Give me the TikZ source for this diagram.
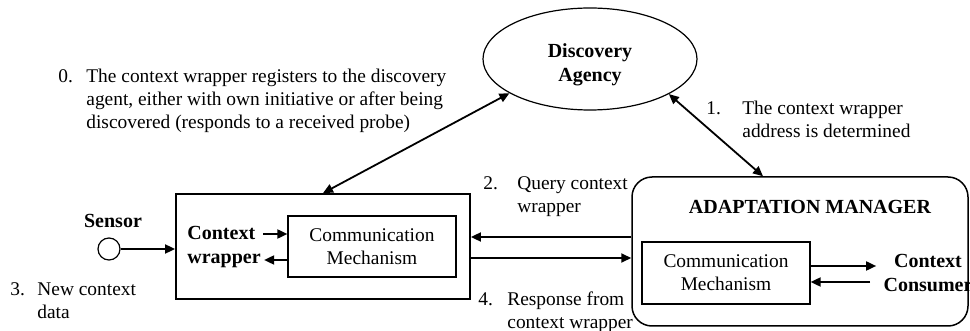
\documentclass[tikz,border=0pt]{standalone}
\usepackage{fontspec}
\setmainfont{Liberation Serif}
\usetikzlibrary{arrows.meta,shapes.geometric}

\tikzset{
	arr/.style={-{Triangle[length=5pt,width=4.5pt]}, line width=0.9pt},
	dblarr/.style={{Triangle[length=5pt,width=4.5pt]}-{Triangle[length=5pt,width=4.5pt]}, line width=0.9pt},
	box/.style={draw, line width=0.6pt, inner sep=0pt, align=center},
	note/.style={inner sep=0pt, anchor=base west},
	lbl/.style={inner sep=0pt, font=\bfseries, align=center},
}

\begin{document}
\begin{tikzpicture}[x=0.5pt, y=-0.5pt, font=\fontsize{9.7}{11.5}\selectfont]
			\useasboundingbox (0,0) rectangle (970,331);
			
			% discovery agency, its text sits a little low
			\node[box, ellipse, minimum width=107pt, minimum height=51pt,
				label={[lbl, yshift=-3pt]center:Discovery\\Agency}] (disc) at (590,59) {};
			
			% context wrapper side
			\node[box, line width=0.9pt, minimum width=147pt, minimum height=52.5pt] (cw) at (323,246.5) {};
			\node[box, minimum width=84pt, minimum height=30.5pt] (cwcomm) at (372,246.5) {Communication\\Mechanism};
			\node[lbl, align=left, anchor=west] (cwlbl) at (187,247) {Context\\wrapper};
			\node[draw, circle, minimum size=11pt, inner sep=0pt, line width=0.6pt] (sensor) at (109,249) {};
			\node[lbl, anchor=base] (sensorlbl) at (113,228) {Sensor};
			
			% adaptation manager side
			\node[box, rounded corners=10pt, line width=0.75pt, minimum width=168pt, minimum height=74.5pt] (am) at (800,251.5) {};
			\node[lbl, anchor=base] (amlbl) at (810,214) {ADAPTATION MANAGER};
			\node[box, minimum width=84pt, minimum height=31pt] (amcomm) at (726,273) {Communication\\Mechanism};
			\node[lbl] (cons) at (928,273) {Context\\Consumer};
			
			% numbered steps
			\node[note] (note0) at (58,83) {\begin{tabular}[t]{@{}p{14pt}@{}l@{}}0. & The context wrapper registers to the discovery\\ & agent, either with own initiative or after being\\ & discovered (responds to a received probe)\end{tabular}};
			\node[note] (note1) at (706,115) {\begin{tabular}[t]{@{}p{18pt}@{}l@{}}1. & The context wrapper\\ & address is determined\end{tabular}};
			\node[note] (note2) at (483,190) {\begin{tabular}[t]{@{}p{17pt}@{}l@{}}2. & Query context\\ & wrapper\end{tabular}};
			\node[note] (note3) at (10,296) {\begin{tabular}[t]{@{}p{13.5pt}@{}l@{}}3. & New context\\ & data\end{tabular}};
			\node[note] (note4) at (478,306) {\begin{tabular}[t]{@{}p{14.5pt}@{}l@{}}4. & Response from\\ & context wrapper\end{tabular}};
			
			% levels of the horizontal arrows
			\coordinate (q) at (0,237);
			\coordinate (r) at (0,258);
			\coordinate (cwin) at (0,234);
			\coordinate (cwout) at (0,260);
			\coordinate (amout) at (0,266);
			\coordinate (amin) at (0,282);
			
			\draw[dblarr] (disc.203) -- (cw.north);
			\draw[dblarr] (disc.-24) -- ([xshift=-18.5pt]am.north);
			\draw[arr] (am.west |- q) -- (cw.east |- q);
			\draw[arr] (cw.east |- r) -- (am.west |- r);
			\draw[arr] (sensor) -- (cw.west |- sensor);
			\draw[arr] ([xshift=1pt]cwlbl.east |- cwin) -- (cwcomm.west |- cwin);
			\draw[arr] (cwcomm.west |- cwout) -- ([xshift=1.5pt]cwlbl.east |- cwout);
			\draw[arr] (amcomm.east |- amout) -- ([xshift=-3.5pt]cons.west |- amout);
			\draw[arr] ([xshift=-6.5pt]cons.west |- amin) -- (amcomm.east |- amin);
			
		\end{tikzpicture}
\end{document}
